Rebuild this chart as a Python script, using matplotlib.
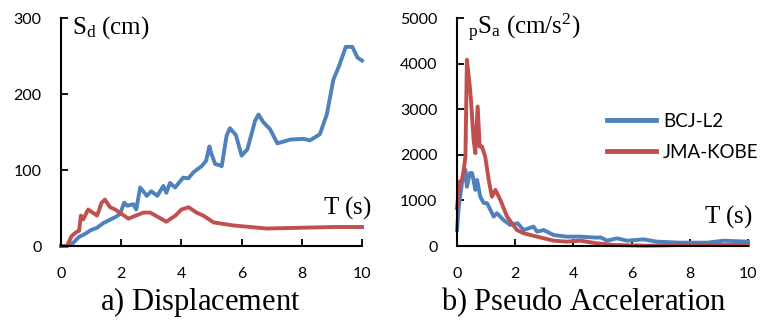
import matplotlib
matplotlib.use("Agg")
import matplotlib.pyplot as plt

# spectra
sd_bcj_t = [0, 0.2, 0.4, 0.6, 0.8, 1.0, 1.2, 1.4, 1.6, 1.8, 1.96, 2.1, 2.2, 2.4, 2.5, 2.63,
            2.85, 3.0, 3.2, 3.4, 3.5, 3.62, 3.79, 4.06, 4.23, 4.4, 4.67, 4.82, 4.93, 5.0,
            5.12, 5.28, 5.34, 5.5, 5.61, 5.81, 6.0, 6.19, 6.45, 6.56, 6.72, 6.94, 7.19,
            7.61, 8.05, 8.27, 8.6, 8.83, 9.05, 9.24, 9.46, 9.68, 9.85, 10]
sd_bcj = [0, 0, 4, 12, 16, 21, 24, 30, 34, 38, 42, 57, 53, 55, 48, 77,
          66, 72, 66, 79, 70, 83, 77, 90, 89, 97, 105, 112, 131, 121,
          108, 106, 105, 145, 155, 146, 119, 127, 165, 173, 163, 154, 135,
          140, 141, 139, 147, 173, 219, 237, 262, 262, 248, 244]

sd_kobe_t = [0, 0.2, 0.35, 0.5, 0.6, 0.66, 0.74, 0.9, 1.2, 1.35, 1.46, 1.63, 1.8, 2.24, 2.74,
             2.96, 3.5, 3.8, 4.0, 4.24, 4.5, 4.73, 5.07, 5.73, 6.84, 7.95, 9.07, 10]
sd_kobe = [0, 0, 13, 18, 20, 40, 35, 48, 40, 57, 61, 51, 48, 36, 44,
           44, 32, 40, 48, 51, 44, 40, 31, 27, 23, 24, 25, 25]

sa_bcj_t = [0, 0.06, 0.17, 0.29, 0.34, 0.44, 0.52, 0.63, 0.69, 0.8, 0.92, 1.03, 1.15, 1.26,
            1.37, 1.6, 1.83, 2.08, 2.29, 2.63, 2.75, 2.98, 3.32, 3.78, 4.24, 4.81, 4.93, 5.15,
            5.5, 5.84, 6.41, 6.87, 7.67, 8.6, 9.16, 10]
sa_bcj = [350, 860, 1380, 1670, 1300, 1600, 1600, 1230, 1450, 1080, 940, 940, 790, 645,
          720, 570, 460, 500, 350, 425, 315, 350, 240, 205, 205, 183, 190, 117,
          168, 117, 146, 95, 73, 73, 117, 95]

sa_kobe_t = [0, 0.09, 0.17, 0.23, 0.29, 0.34, 0.44, 0.48, 0.57, 0.63, 0.71, 0.78, 0.86, 0.97,
             1.09, 1.2, 1.32, 1.49, 1.72, 2.06, 2.29, 2.75, 3.32, 3.78, 4.24, 4.81, 5.38,
             6.53, 7.67, 10]
sa_kobe = [830, 1410, 1450, 1670, 1960, 4085, 3500, 3200, 2330, 2035, 3060, 2180, 2180, 1960,
           1450, 1080, 1230, 1010, 645, 350, 280, 205, 117, 95, 117, 59, 22,
           7, 22, 22]

blue = "#4F81BD"
red = "#C0504D"

plt.rcParams["mathtext.fontset"] = "custom"
plt.rcParams["mathtext.rm"] = "Liberation Serif"
plt.rcParams["mathtext.it"] = "Liberation Serif:italic"

fig = plt.figure(figsize=(7.61, 3.25), dpi=100)
ax1 = fig.add_axes([61 / 761, 79 / 325, 301 / 761, 228 / 325])
ax2 = fig.add_axes([457 / 761, 79 / 325, 291 / 761, 228 / 325])

lw = 2.8
ax1.plot(sd_bcj_t, sd_bcj, color=blue, lw=lw, clip_on=False, solid_joinstyle="round")
ax1.plot(sd_kobe_t, sd_kobe, color=red, lw=lw, clip_on=False, solid_joinstyle="round")
ax1.set_ylim(0, 300)
ax1.set_yticks([0, 100, 200, 300])

ax2.plot(sa_bcj_t, sa_bcj, color=blue, lw=lw, label="BCJ-L2", clip_on=False,
         solid_joinstyle="round")
ax2.plot(sa_kobe_t, sa_kobe, color=red, lw=lw, label="JMA-KOBE", clip_on=False,
         solid_joinstyle="round")
ax2.set_ylim(0, 5000)
ax2.set_yticks([0, 1000, 2000, 3000, 4000, 5000])

for ax in (ax1, ax2):
    for s in ("top", "right"):
        ax.spines[s].set_visible(False)
    for s in ("left", "bottom"):
        ax.spines[s].set_linewidth(1.5)
    ax.set_xlim(0, 10)
    ax.set_xticks([0, 2, 4, 6, 8, 10])
    ax.tick_params(direction="in", length=5, width=1.3, labelsize=11.5)
    ax.tick_params(axis="y", pad=14)
    ax.tick_params(axis="x", pad=15)
    for lab in ax.get_xticklabels() + ax.get_yticklabels():
        lab.set_family("Lato")

fig.text(72 / 761, 1 - 28 / 325, r"$\mathrm{S_d\ (cm)}$", fontsize=18, va="center", ha="left")
fig.text(372 / 761, 1 - 208 / 325, r"$\mathrm{T\ (s)}$", fontsize=18, va="center", ha="right")
fig.text(468 / 761, 1 - 28 / 325, r"$\mathrm{{}_pS_a\ (cm/s^2)}$", fontsize=18, va="center", ha="left")
fig.text(753 / 761, 1 - 217 / 325, r"$\mathrm{T\ (s)}$", fontsize=18, va="center", ha="right")

fig.text(200 / 761, 1 - 302 / 325, r"$\mathrm{a)\ Displacement}$", fontsize=22,
         ha="center", va="center")
fig.text(584 / 761, 1 - 302 / 325, r"$\mathrm{b)\ Pseudo\ Acceleration}$", fontsize=22,
         ha="center", va="center")

leg = ax2.legend(loc="upper left", bbox_to_anchor=(590 / 761, 1 - 96 / 325),
                 bbox_transform=fig.transFigure, frameon=False, handlelength=2.6,
                 handletextpad=0.4, labelspacing=0.75, prop={"family": "Lato", "size": 13.5})
for line in leg.get_lines():
    line.set_linewidth(3.5)

fig.savefig("out.png", dpi=100)
